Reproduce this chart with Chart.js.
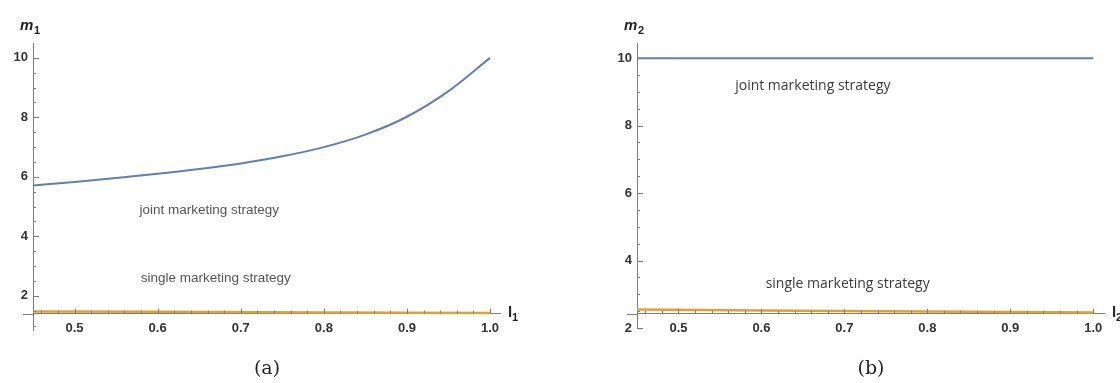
<!DOCTYPE html>
<html>
<head>
<meta charset="utf-8">
<script src="https://cdn.jsdelivr.net/npm/chart.js@4"></script>
<style>
html, body { margin: 0; padding: 0; background: #fff; }
#wrap { position: relative; width: 1120px; height: 383px; overflow: hidden; }
.panel { position: absolute; top: 0; width: 560px; height: 383px; }
.cap { position: absolute; top: 356px; font-family: "DejaVu Serif", serif; font-size: 19px; color: #222; transform: translateX(-50%); }
</style>
</head>
<body>
<div id="wrap">
  <div class="panel" style="left:0"><canvas id="chartA" width="560" height="383"></canvas></div>
  <div class="panel" style="left:560px"><canvas id="chartB" width="560" height="383"></canvas></div>
  <div class="cap" style="left:267px">(a)</div>
  <div class="cap" style="left:871px">(b)</div>
</div>
<script>
// values
const lValues = [0.45, 0.5, 0.55, 0.6, 0.65, 0.7, 0.75, 0.8, 0.85, 0.9, 0.95, 1.0];
const jointM1 = [5.71, 5.83, 5.96, 6.10, 6.26, 6.45, 6.69, 7.00, 7.42, 8.02, 8.88, 10.0];

const singleL = [0.45, 0.6, 0.8, 1.0];
const singleM1 = [1.47, 1.46, 1.44, 1.42];
const jointM2 = [10, 10, 10, 10];
const singleM2 = [2.55, 2.52, 2.49, 2.46];

const xTickLabels = [0.5, 0.6, 0.7, 0.8, 0.9, 1.0];
const yTickLabels = [2, 4, 6, 8, 10];

const axisGray = '#7d7d7d';
const tickFont = { family: 'Liberation Sans, Arial, sans-serif', size: 13, weight: 'bold' };

function toPoints(xs, ys) {
    return xs.map((v, i) => ({ x: v, y: ys[i] }));
}

// Mathematica style inward ticks, axis names and text labels
const axisDecor = {
    id: 'axisDecor',
    afterDatasetsDraw(chart) {
        const p = chart.options.plugins.axisDecor;
        const { ctx, chartArea } = chart;
        const xs = chart.scales.x, ys = chart.scales.y;
        const axisPx = ys.getPixelForValue(p.axisY);
        const left = chartArea.left;

        ctx.save();
        ctx.strokeStyle = axisGray;
        ctx.lineWidth = 1;
        ctx.beginPath();
        // x ticks every 0.02, major every 0.1
        for (let i = 23; i <= 50; i++) {
            const px = Math.round(xs.getPixelForValue(i / 50)) + 0.5;
            const len = i % 5 === 0 ? 5 : 3;
            ctx.moveTo(px, axisPx);
            ctx.lineTo(px, axisPx - len);
        }
        // y ticks every 0.5, major every 2
        for (let i = Math.ceil(p.yMin * 2); i <= 20; i++) {
            const py = Math.round(ys.getPixelForValue(i / 2)) + 0.5;
            const len = i % 4 === 0 ? 6 : 3;
            ctx.moveTo(left, py);
            ctx.lineTo(left + len, py);
        }
        // x axis sticks out a little past the y axis
        ctx.moveTo(left - 10, Math.round(axisPx) + 0.5);
        ctx.lineTo(left, Math.round(axisPx) + 0.5);
        ctx.stroke();

        // axis names
        ctx.fillStyle = '#222';
        ctx.textBaseline = 'middle';
        ctx.textAlign = 'left';
        ctx.font = 'italic bold 15px "Liberation Sans", Arial, sans-serif';
        ctx.fillText('m', left - 13, chartArea.top - 17);
        ctx.font = 'bold 11px "Liberation Sans", Arial, sans-serif';
        ctx.fillText(p.sub, left + 1, chartArea.top - 12);
        ctx.font = 'bold 15px "Liberation Sans", Arial, sans-serif';
        const lx = xs.getPixelForValue(xs.max) + 8;
        ctx.fillText('l', lx, axisPx - 1);
        ctx.font = 'bold 11px "Liberation Sans", Arial, sans-serif';
        ctx.fillText(p.sub, lx + 4, axisPx + 4);

        // strategy labels
        ctx.textAlign = 'center';
        p.notes.forEach(n => {
            ctx.font = n.font;
            ctx.fillStyle = n.color;
            ctx.fillText(n.text, xs.getPixelForValue(n.x), ys.getPixelForValue(n.y));
        });
        ctx.restore();
    }
};

function makePanel(canvasId, p) {
    return new Chart(document.getElementById(canvasId), {
        type: 'line',
        data: {
            datasets: [
                {
                    data: p.joint,
                    borderColor: '#5E81B5',
                    borderWidth: 2,
                    pointRadius: 0,
                    cubicInterpolationMode: 'monotone'
                },
                {
                    data: p.single,
                    borderColor: '#E5A12E',
                    borderWidth: 2.5,
                    pointRadius: 0
                }
            ]
        },
        options: {
            responsive: false,
            animation: false,
            layout: { padding: { top: 43, right: p.padRight, bottom: p.padBottom, left: 0 } },
            plugins: {
                legend: { display: false },
                tooltip: { enabled: false },
                axisDecor: { axisY: p.axisY, yMin: p.yMin, sub: p.sub, notes: p.notes }
            },
            scales: {
                x: {
                    type: 'linear',
                    min: 0.45,
                    max: p.xMax,
                    position: { y: p.axisY },
                    afterBuildTicks: s => { s.ticks = xTickLabels.map(v => ({ value: v })); },
                    grid: { display: false, drawTicks: false },
                    border: { color: axisGray, width: 1 },
                    ticks: {
                        padding: 7, color: '#333', font: tickFont,
                        autoSkip: false, maxRotation: 0,
                        callback: v => v.toFixed(1)
                    }
                },
                y: {
                    type: 'linear',
                    min: p.yMin,
                    max: p.yMax,
                    afterBuildTicks: s => { s.ticks = yTickLabels.map(v => ({ value: v })); },
                    afterFit: s => { s.width = p.yAxisAt; },
                    grid: { display: false, drawTicks: false },
                    border: { color: axisGray, width: 1 },
                    ticks: { padding: 5, color: '#333', font: tickFont, callback: v => String(v) }
                }
            }
        },
        plugins: [axisDecor]
    });
}

makePanel('chartA', {
    joint: toPoints(lValues, jointM1),
    single: toPoints(singleL, singleM1),
    xMax: 1.012, yMin: 0.85, yMax: 10.5, axisY: 1.4,
    yAxisAt: 33, padRight: 60, padBottom: 53, sub: '1',
    notes: [
        { text: 'joint marketing strategy', x: 0.662, y: 4.87, font: '13.5px "Liberation Sans", Arial, sans-serif', color: '#555' },
        { text: 'single marketing strategy', x: 0.67, y: 2.6, font: '13.5px "Liberation Sans", Arial, sans-serif', color: '#555' }
    ]
});

makePanel('chartB', {
    joint: toPoints(singleL, jointM2),
    single: toPoints(singleL, singleM2),
    xMax: 1.013, yMin: 2, yMax: 10.45, axisY: 2.42,
    yAxisAt: 77, padRight: 16, padBottom: 55, sub: '2',
    notes: [
        { text: 'joint marketing strategy', x: 0.662, y: 9.17, font: '14px "Open Sans", sans-serif', color: '#3a3a3a' },
        { text: 'single marketing strategy', x: 0.704, y: 3.3, font: '14px "Open Sans", sans-serif', color: '#3a3a3a' }
    ]
});
</script>
</body>
</html>
